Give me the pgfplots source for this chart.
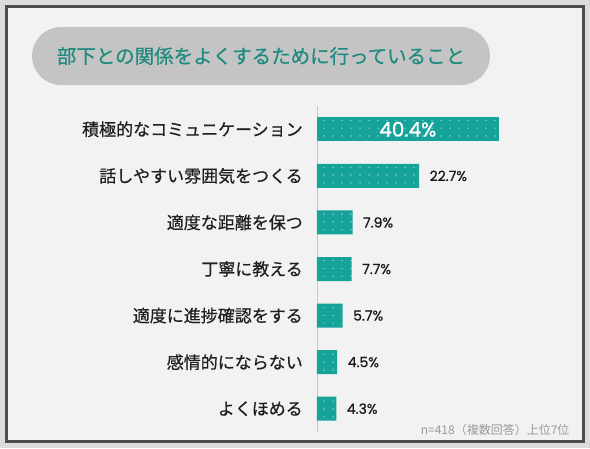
\documentclass[border=0pt]{standalone}
\usepackage{pgfplots}
\pgfplotsset{compat=1.18}
\usetikzlibrary{patterns}
\usepackage{fontspec}
\setmainfont{Noto Sans CJK JP}
\newfontfamily\jpmed[FakeBold=0.5]{Noto Sans CJK JP}
\newfontfamily\numfont[FakeBold=0.8]{Poppins}
\definecolor{barteal}{HTML}{17A39A}
\definecolor{titleteal}{HTML}{1F8A80}
\definecolor{pillgray}{HTML}{C4C4C4}
\definecolor{bggray}{HTML}{F2F2F2}
\definecolor{notegray}{HTML}{9A9A9A}
\pgfdeclarepatternformonly{bardots}{\pgfpoint{-1pt}{-1pt}}{\pgfpoint{1pt}{1pt}}{\pgfpoint{9pt}{7.8pt}}%
  {\pgfpathcircle{\pgfpointorigin}{0.55pt}\pgfusepath{fill}}
\begin{document}
\begin{tikzpicture}
  % frame and title (pixel units, y downwards)
  \begin{scope}[x=1pt,y=-1pt]
    \fill[black!14] (0,0) rectangle (590,448);
    \draw[black!70, line width=2.5pt, fill=bggray] (6.5,6.5) rectangle (583.5,441.5);
    \fill[pillgray, rounded corners=29pt] (32,27) rectangle (490,85);
    \node[text=titleteal, font=\jpmed\fontsize{19.5}{20}\selectfont] at (261,56) {部下との関係をよくするために行っていること};
    \node[text=notegray, anchor=base east, font=\fontsize{12}{12}\selectfont] at (573,434) {n=418（複数回答）上位7位};
  \end{scope}

  \begin{axis}[
      at={(317pt,-432pt)}, anchor=south west,
      scale only axis,
      width=225pt, height=326pt,
      xmin=0, xmax=50,
      ymin=-0.5, ymax=6.5,
      y dir=reverse,
      xbar, bar width=24pt,
      axis x line=none,
      axis y line=left,
      y axis line style={-, draw=black!22, line width=0.8pt},
      major tick length=0pt,
      ytick={0,...,6},
      yticklabels={積極的なコミュニケーション, 話しやすい雰囲気をつくる, 適度な距離を保つ, 丁寧に教える, 適度に進捗確認をする, 感情的にならない, よくほめる},
      yticklabel style={anchor=east, inner sep=0pt, xshift=-14pt, text=black!88, font=\jpmed\fontsize{17}{17}\selectfont},
      /pgf/number format/assume math mode=true,
      clip=false,
    ]
    \addplot[bar shift=0pt, draw=none, fill=barteal,
      postaction={pattern=bardots, pattern color=white},
      nodes near coords={\pgfmathprintnumber[fixed,precision=1,fixed zerofill]{\pgfplotspointmeta}\%},
      every node near coord/.style={anchor=center, xshift=-91pt, text=white, font=\numfont\fontsize{20}{20}\selectfont}]
      coordinates {(40.4,0)};
    \addplot[bar shift=0pt, draw=none, fill=barteal,
      postaction={pattern=bardots, pattern color=white},
      nodes near coords={\pgfmathprintnumber[fixed,precision=1,fixed zerofill]{\pgfplotspointmeta}\%},
      every node near coord/.style={anchor=west, xshift=7pt, text=black!90, font=\numfont\fontsize{14}{14}\selectfont}]
      coordinates {(22.7,1) (7.9,2) (7.7,3) (5.7,4) (4.5,5) (4.3,6)};
  \end{axis}
\end{tikzpicture}
\end{document}
